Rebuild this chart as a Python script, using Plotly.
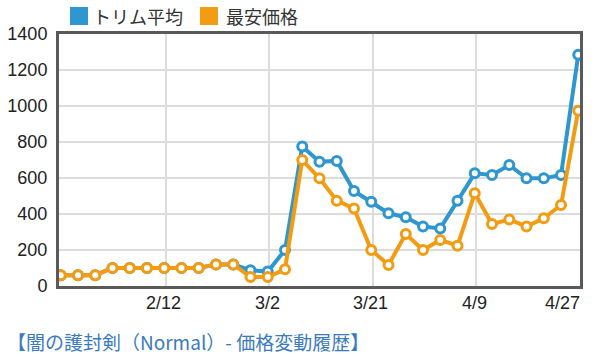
import plotly.graph_objects as go

# ---- data ----
point_index = list(range(31))
trim_avg = [60, 60, 60, 100, 100, 100, 100, 100, 100, 120, 120,
            88, 80, 200, 775, 690, 695, 528, 468, 404, 382, 330, 320,
            474, 626, 617, 672, 598, 598, 617, 1285]
lowest = [60, 60, 60, 100, 100, 100, 100, 100, 100, 120, 120,
          50, 50, 93, 700, 598, 474, 431, 200, 117, 289, 200, 256,
          224, 515, 344, 370, 330, 376, 450, 974]
series_names = ["トリム平均", "最安価格"]
x_tick_idx = [6, 12, 18, 24, 30]
x_tick_labels = ["2/12", "3/2", "3/21", "4/9", "4/27"]
y_tick_vals = [0, 200, 400, 600, 800, 1000, 1200, 1400]
title_text = "【闇の護封剣（Normal）- 価格変動履歴】"

# ---- style ----
BLUE = "#2f97cf"
ORANGE = "#f39c12"
LAT = "Liberation Sans, Arial, Noto Sans CJK JP, sans-serif"
JP = "Noto Sans CJK JP, sans-serif"

W, H = 600, 356
L, R, T, B = 59, 580, 34, 286


def px(x):
    return (x - L) / (R - L)


def py(y):
    return (B - y) / (B - T)


fig = go.Figure()
for vals, col, name in [(trim_avg, BLUE, series_names[0]), (lowest, ORANGE, series_names[1])]:
    fig.add_trace(go.Scatter(
        x=point_index, y=vals, mode="lines+markers", name=name,
        line=dict(color=col, width=4),
        marker=dict(size=9, color="white", line=dict(color=col, width=3)),
        showlegend=False, hoverinfo="skip",
    ))

offset = 0.1
fig.update_xaxes(
    range=[-0.1, 30.1], automargin=False,
    tickvals=[i + offset for i in x_tick_idx], showticklabels=False,
    showgrid=True, gridcolor="#dcdcdc", gridwidth=2,
    showline=True, linecolor="#5a5a5a", linewidth=3, mirror=True,
    zeroline=False,
)
fig.update_yaxes(
    range=[0, 1400], tickvals=y_tick_vals, automargin=False,
    tickfont=dict(family=LAT, size=18, color="#222"),
    showgrid=True, gridcolor="#dcdcdc", gridwidth=2,
    showline=True, linecolor="#5a5a5a", linewidth=3, mirror=True,
    zeroline=False, ticks="", ticklabelstandoff=5,
)

annotations = []
for i, lab in zip(x_tick_idx, x_tick_labels):
    last = (i == x_tick_idx[-1])
    annotations.append(dict(
        x=i + offset if not last else 30.1, xref="x", y=0, yref="paper",
        yshift=-17, text=lab, showarrow=False,
        xanchor="right" if last else "center", yanchor="middle",
        xshift=2 if last else -2,
        font=dict(family=LAT, size=18, color="#222"),
    ))

# legend (manual)
shapes = []
legend_items = [(series_names[0], BLUE, 70, 91), (series_names[1], ORANGE, 200, 224)]
for name, col, sx, tx in legend_items:
    shapes.append(dict(type="rect", xref="paper", yref="paper",
                       x0=px(sx), x1=px(sx + 18), y0=py(7), y1=py(25),
                       fillcolor=col, line=dict(width=0)))
    annotations.append(dict(x=px(tx), y=py(16), xref="paper", yref="paper",
                            text=name, showarrow=False, xanchor="left", yanchor="middle",
                            font=dict(family=JP, size=18, color="#333")))

annotations.append(dict(x=px(5), y=py(341), xref="paper", yref="paper",
                        text=title_text, showarrow=False, xanchor="left", yanchor="middle",
                        font=dict(family=JP, size=19, color="#3a7bbf")))

fig.update_layout(
    width=W, height=H,
    margin=dict(l=L, r=W - R, t=T, b=H - B),
    paper_bgcolor="white", plot_bgcolor="white",
    annotations=annotations, shapes=shapes,
    showlegend=False,
)

fig.write_html("out.html", config={"displayModeBar": False},
               post_script="document.body.style.margin='0';")
